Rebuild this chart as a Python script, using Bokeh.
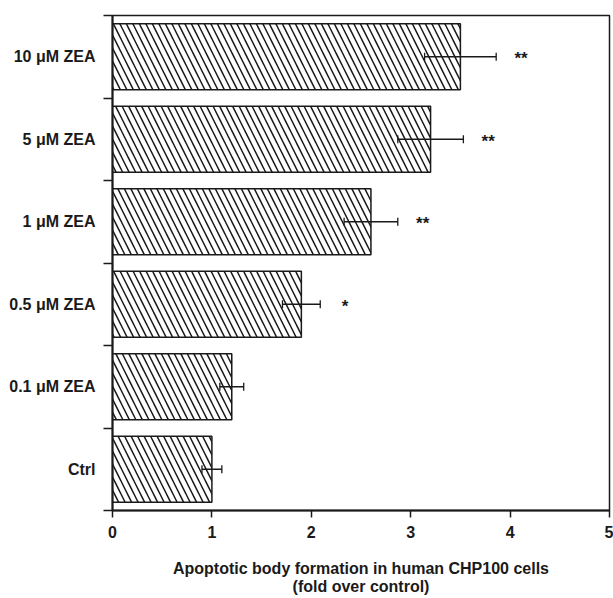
from bokeh.plotting import figure
from bokeh.models import ColumnDataSource, Range1d, FixedTicker, Whisker, TeeHead
from bokeh.core.properties import value
from bokeh.embed import file_html
from bokeh.resources import INLINE

# ---- data ----
categories = ["Ctrl", "0.1 \u03bcM ZEA", "0.5 \u03bcM ZEA", "1 \u03bcM ZEA", "5 \u03bcM ZEA", "10 \u03bcM ZEA"]
fold = [1.0, 1.2, 1.9, 2.6, 3.2, 3.5]
sem = [0.10, 0.12, 0.19, 0.27, 0.33, 0.36]
signif = ["", "", "*", "**", "**", "**"]
x_ticks = [0, 1, 2, 3, 4, 5]

FONT = "Liberation Sans"
INK = "#1a1a1a"

pos = list(range(len(categories)))
lower = [f - e for f, e in zip(fold, sem)]
upper = [f + e for f, e in zip(fold, sem)]
star_x = [u + 0.25 for u in upper]

src = ColumnDataSource(dict(y=pos, fold=fold, lower=lower, upper=upper,
                            star_x=star_x, signif=signif))

p = figure(width=613, height=598, output_backend="svg", toolbar_location=None,
           x_range=Range1d(x_ticks[0], x_ticks[-1]),
           y_range=Range1d(-0.5, len(categories) - 0.5),
           min_border_left=112, min_border_right=4, min_border_top=15,
           min_border_bottom=86)

p.background_fill_color = "white"
p.border_fill_color = "white"
p.outline_line_color = INK
p.outline_line_width = 1.5
p.xgrid.visible = False
p.ygrid.visible = False

p.hbar(y="y", left=0, right="fold", height=0.8, source=src,
       fill_color="white", line_color=INK, line_width=1.5,
       hatch_pattern="left_diagonal_line", hatch_color=INK,
       hatch_scale=13, hatch_weight=1.5)

head_kw = dict(size=8, line_color=INK, line_width=1.3)
p.add_layout(Whisker(source=src, base="y", lower="lower", upper="upper",
                     dimension="width", line_color=INK, line_width=1.3,
                     upper_head=TeeHead(**head_kw), lower_head=TeeHead(**head_kw),
                     level="overlay"))

p.text(x="star_x", y="y", text="signif", source=src,
       text_font=value(FONT), text_font_style="bold", text_font_size="17px",
       text_align="center", text_baseline="middle", text_color=INK, y_offset=2)

# x axis
xa = p.xaxis[0]
xa.ticker = FixedTicker(ticks=x_ticks)
xa.major_tick_out = 7
xa.major_tick_in = 0
xa.minor_tick_out = 0
xa.minor_tick_in = 0
xa.axis_line_color = INK
xa.axis_line_width = 2
xa.major_tick_line_color = INK
xa.major_tick_line_width = 1.5
xa.major_label_text_font = FONT
xa.major_label_text_font_style = "bold"
xa.major_label_text_font_size = "16px"
xa.major_label_text_color = INK
xa.major_label_standoff = 8
xa.axis_label = "Apoptotic body formation in human CHP100 cells\n(fold over control)"
xa.axis_label_text_font = FONT
xa.axis_label_text_font_style = "bold"
xa.axis_label_text_font_size = "16px"
xa.axis_label_text_line_height = 1.1
xa.axis_label_text_color = INK
xa.axis_label_standoff = 19

# y axis
ya = p.yaxis[0]
ya.ticker = FixedTicker(ticks=pos, minor_ticks=[i - 0.5 for i in range(len(categories) + 1)])
ya.major_label_overrides = {i: c for i, c in zip(pos, categories)}
ya.major_tick_out = 0
ya.major_tick_in = 0
ya.minor_tick_out = 9
ya.minor_tick_in = 0
ya.minor_tick_line_color = INK
ya.minor_tick_line_width = 1.5
ya.axis_line_color = INK
ya.axis_line_width = 2
ya.major_label_text_font = FONT
ya.major_label_text_font_style = "bold"
ya.major_label_text_font_size = "16px"
ya.major_label_text_color = INK
ya.major_label_standoff = 8

open("out.html", "w").write(file_html(p, INLINE))
